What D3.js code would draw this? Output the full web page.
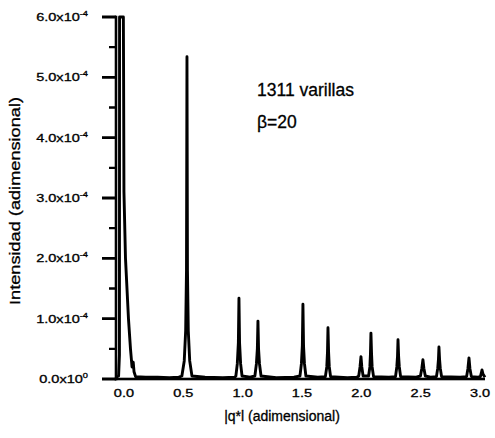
<!DOCTYPE html>
<html>
<head>
<meta charset="utf-8">
<script src="https://cdn.jsdelivr.net/npm/d3@7/dist/d3.min.js"></script>
<style>
  html, body { margin: 0; padding: 0; background: #fff; }
  svg { display: block; }
  text { font-family: "Liberation Sans", Arial, Helvetica, sans-serif; fill: #000; stroke: #000; stroke-width: 0.3; }
</style>
</head>
<body>
<svg id="chart" width="495" height="438"></svg>
<script>
// Intensity profile: [q*l, intensity in units of 1e-4]
const perfil = [
  [-0.05, 0.03], [-0.028, 0.05], [-0.021, 0.4], [-0.02, 6.0], [0.012, 6.0],
  [0.014, 5.0], [0.017, 3.1], [0.03, 2.0], [0.055, 1.0], [0.072, 0.5],
  [0.085, 0.2], [0.095, 0.28], [0.102, 0.12], [0.115, 0.04],
  [0.2, 0.03], [0.3, 0.03], [0.4, 0.02], [0.48, 0.03],
  [0.505, 0.05], [0.525, 0.3], [0.537, 0.8], [0.544, 1.8], [0.548, 5.34],
  [0.552, 1.8], [0.559, 0.8], [0.571, 0.3], [0.59, 0.05], [0.7, 0.03],
  [0.85, 0.02], [0.95, 0.03],
  [0.96, 0.05], [0.972, 0.25], [0.981, 0.6], [0.986, 1.34], [0.991, 0.6],
  [1.0, 0.25], [1.012, 0.05], [1.08, 0.03],
  [1.12, 0.05], [1.133, 0.25], [1.141, 0.5], [1.146, 0.96], [1.151, 0.5],
  [1.159, 0.25], [1.172, 0.05], [1.3, 0.02], [1.45, 0.03],
  [1.5, 0.05], [1.512, 0.25], [1.52, 0.55], [1.525, 1.24], [1.53, 0.55],
  [1.538, 0.25], [1.55, 0.05], [1.65, 0.03],
  [1.714, 0.04], [1.726, 0.2], [1.732, 0.45], [1.736, 0.85], [1.741, 0.45],
  [1.747, 0.2], [1.758, 0.04], [1.9, 0.02], [1.98, 0.03],
  [1.995, 0.05], [2.006, 0.2], [2.014, 0.37], [2.021, 0.2], [2.032, 0.05], [2.06, 0.05],
  [2.078, 0.05], [2.089, 0.2], [2.094, 0.42], [2.098, 0.76], [2.103, 0.42],
  [2.108, 0.2], [2.12, 0.04], [2.25, 0.03],
  [2.305, 0.04], [2.316, 0.2], [2.322, 0.38], [2.326, 0.65], [2.331, 0.38],
  [2.337, 0.2], [2.348, 0.04], [2.48, 0.03],
  [2.515, 0.05], [2.527, 0.18], [2.536, 0.32], [2.544, 0.18], [2.556, 0.05], [2.6, 0.03],
  [2.65, 0.04], [2.661, 0.18], [2.667, 0.33], [2.671, 0.53], [2.676, 0.33],
  [2.682, 0.18], [2.693, 0.04], [2.85, 0.03],
  [2.904, 0.04], [2.915, 0.17], [2.924, 0.35], [2.932, 0.17], [2.944, 0.04], [3.0, 0.03],
  [3.02, 0.04], [3.028, 0.1], [3.034, 0.15], [3.042, 0.08], [3.059, 0.03]
];

const xTicks = [0.0, 0.5, 1.0, 1.5, 2.0, 2.5, 3.0];
const xTickLabels = ["0.0", "0.5", "1.0", "1.5", "2.0", "2.5", "3.0"];
const yTicks = [0, 1, 2, 3, 4, 5, 6];
const yMinorTicks = [0.5, 1.5, 2.5, 3.5, 4.5, 5.5];
const yTickMantissas = ["0.0x10", "1.0x10", "2.0x10", "3.0x10", "4.0x10", "5.0x10", "6.0x10"];
const yTickExponents = ["0", "-4", "-4", "-4", "-4", "-4", "-4"];

const anotaciones = ["1311 varillas", "\u03B2=20"];
const xTitle = "|q*l (adimensional)";
const yTitle = "Intensidad (adimensional)";

const svg = d3.select("#chart");
const plot = { left: 116, right: 485, top: 17, bottom: 379 };

const x = d3.scaleLinear().domain([-0.05, 3.059]).range([plot.left, plot.right]);
const y = d3.scaleLinear().domain([0, 6]).range([plot.bottom, plot.top]);
const x0 = x(-0.05);

// Curve
svg.append("path")
  .datum(perfil)
  .attr("fill", "none")
  .attr("stroke", "#000")
  .attr("stroke-width", 2.9)
  .attr("stroke-linejoin", "round")
  .attr("d", d3.line().x(d => x(d[0])).y(d => y(d[1])));

// Y tick labels with superscript exponent
yTicks.forEach((v, i) => {
  const g = svg.append("g")
    .attr("transform", `translate(88,${y(v) + 4}) scale(1.32,1)`);
  const t = g.append("text")
    .attr("text-anchor", "end")
    .attr("font-size", 11);
  t.append("tspan").text(yTickMantissas[i]);
  t.append("tspan")
    .attr("font-size", 7)
    .attr("dy", -5)
    .text(yTickExponents[i]);
});

// X tick labels
xTicks.forEach((v, i) => {
  svg.append("g")
    .attr("transform", `translate(${x(v) + 2},${plot.bottom + 18}) scale(1.32,1)`)
    .append("text")
    .attr("text-anchor", "middle")
    .attr("font-size", 11)
    .text(xTickLabels[i]);
});

// Axis titles
svg.append("text")
  .attr("x", 282)
  .attr("y", 421)
  .attr("text-anchor", "middle")
  .attr("font-size", 14)
  .text(xTitle);

svg.append("text")
  .attr("transform", "translate(20,201) rotate(-90)")
  .attr("text-anchor", "middle")
  .attr("font-size", 15)
  .attr("textLength", 208)
  .attr("lengthAdjust", "spacingAndGlyphs")
  .text(yTitle);

// Annotation
anotaciones.forEach((s, i) => {
  svg.append("text")
    .attr("x", 257)
    .attr("y", 96 + i * 32)
    .attr("font-size", 17.5)
    .text(s);
});

// Axis lines
svg.append("rect")
  .attr("x", x0 - 1.3).attr("width", 2.6)
  .attr("y", y(6) - 1.3).attr("height", y(0) - y(6) + 2.6)
  .attr("fill", "#000");
svg.append("rect")
  .attr("x", x0 - 1.3).attr("width", x(3.059) - x0 + 1.3)
  .attr("y", y(0) - 1.3).attr("height", 2.6)
  .attr("fill", "#000");

// Y tick marks: major (long) and minor (short), drawn on top
const majorPath = d3.path();
yTicks.forEach(d => { majorPath.moveTo(x0 - 14, y(d)); majorPath.lineTo(x0, y(d)); });
svg.append("path")
  .attr("d", majorPath.toString())
  .attr("fill", "none")
  .attr("stroke", "#000")
  .attr("stroke-width", 2.8);

const minorPath = d3.path();
yMinorTicks.forEach(d => { minorPath.moveTo(x0 - 7, y(d)); minorPath.lineTo(x0, y(d)); });
svg.append("path")
  .attr("d", minorPath.toString())
  .attr("fill", "none")
  .attr("stroke", "#000")
  .attr("stroke-width", 2.4);
</script>
</body>
</html>
